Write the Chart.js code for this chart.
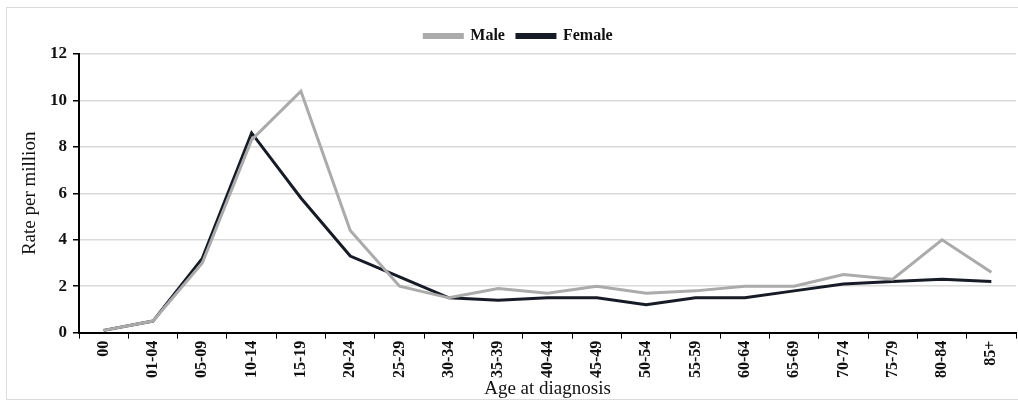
<!DOCTYPE html>
<html><head><meta charset="utf-8">
<script src="https://cdn.jsdelivr.net/npm/chart.js@4/dist/chart.umd.min.js"></script>
<style>
html,body{margin:0;padding:0;background:#fff;}
#frame{position:absolute;left:6px;top:7px;width:1030px;height:393px;border:1px solid #dcdcdc;box-sizing:border-box;}
#wrap{position:absolute;left:0;top:0;width:1018px;height:403px;}
</style></head>
<body>
<div id="frame"></div>
<div id="wrap"><canvas id="ch"></canvas></div>
<script>
const ages=["00","01-04","05-09","10-14","15-19","20-24","25-29","30-34","35-39","40-44","45-49","50-54","55-59","60-64","65-69","70-74","75-79","80-84","85+"];
const male=[0.1,0.5,3.0,8.3,10.4,4.4,2.0,1.5,1.9,1.7,2.0,1.7,1.8,2.0,2.0,2.5,2.3,4.0,2.6];
const female=[0.1,0.5,3.2,8.6,5.8,3.3,2.4,1.5,1.4,1.5,1.5,1.2,1.5,1.5,1.8,2.1,2.2,2.3,2.2];
const GRIS="#ababab",NEGRO="#161b26";
const SERIF="'Liberation Serif','DejaVu Serif',serif";

new Chart(document.getElementById("ch"),{
  type:"line",
  data:{labels:ages,datasets:[
    {label:"Male",data:male,borderColor:GRIS,backgroundColor:GRIS,borderWidth:3,pointRadius:0,tension:0},
    {label:"Female",data:female,borderColor:NEGRO,backgroundColor:NEGRO,borderWidth:3,pointRadius:0,tension:0}]},
  options:{responsive:true,maintainAspectRatio:false,animation:false,
    layout:{padding:{left:21,right:2,top:16,bottom:4}},
    plugins:{
      legend:{position:"top",labels:{boxWidth:38,boxHeight:3,padding:12,color:"#111",font:{family:SERIF,size:16,weight:"bold"}}},
      tooltip:{enabled:false}},
    scales:{
      x:{offset:true,
        grid:{drawOnChartArea:false,drawTicks:true,tickLength:6,tickColor:"#000",offset:true},
        border:{color:"#000",width:2},
        ticks:{maxRotation:90,minRotation:90,color:"#111",padding:2,font:{family:SERIF,size:16,weight:"bold"}},
        title:{display:true,text:"Age at diagnosis",color:"#111",padding:{top:0,bottom:0},font:{family:SERIF,size:19,lineHeight:1}}},
      y:{min:0,max:12,
        grid:{color:"#d9d9d9",lineWidth:1.5,tickLength:6,tickColor:"#000"},
        border:{color:"#000",width:2},
        ticks:{stepSize:2,color:"#111",padding:6,font:{family:SERIF,size:17,weight:"bold"}},
        title:{display:true,text:"Rate per million",color:"#111",padding:{top:0,bottom:4},font:{family:SERIF,size:19,lineHeight:1}}}
    }}
});
</script>
</body></html>
